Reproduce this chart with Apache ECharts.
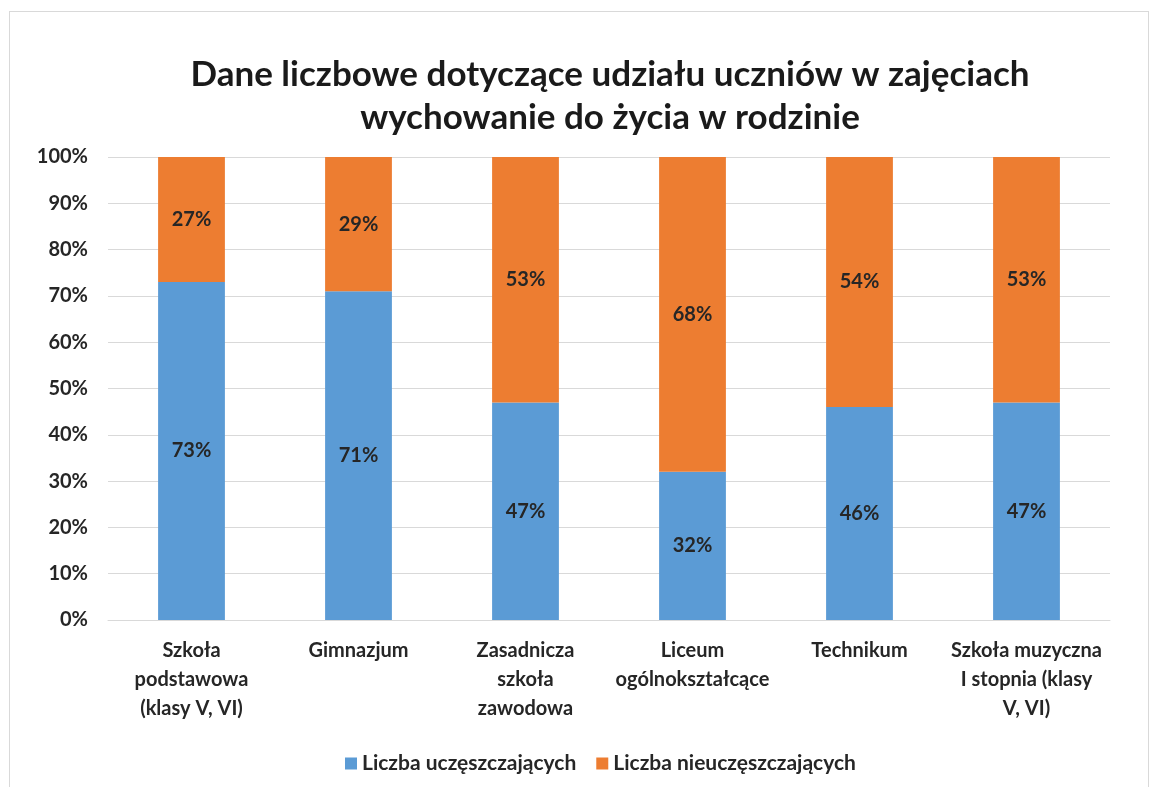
<!DOCTYPE html>
<html>
<head>
<meta charset="utf-8">
<script src="https://cdn.jsdelivr.net/npm/echarts@6/dist/echarts.min.js"></script>
<style>
  html, body { margin: 0; padding: 0; background: #fff; }
  #frame { position: absolute; left: 9px; top: 11px; width: 1140px; height: 790px; border: 1px solid #d9d9d9; box-sizing: border-box; }
  #chart { position: absolute; left: 0; top: 0; width: 1153px; height: 787px; }
</style>
</head>
<body>
<div id="frame"></div>
<div id="chart"></div>
<script>
var categories = [
  'Szkoła\npodstawowa\n(klasy V, VI)',
  'Gimnazjum',
  'Zasadnicza\nszkoła\nzawodowa',
  'Liceum\nogólnokształcące',
  'Technikum',
  'Szkoła muzyczna\nI stopnia (klasy\nV, VI)'
];
var attending = [73, 71, 47, 32, 46, 47];
var notAttending = [27, 29, 53, 68, 54, 53];
var seriesNames = ['Liczba uczęszczających', 'Liczba nieuczęszczających'];

var font = 'Lato, "Noto Sans", sans-serif';
var chart = echarts.init(document.getElementById('chart'));

var labelStyle = {
  show: true,
  formatter: '{c}%',
  color: '#262626',
  fontFamily: font,
  fontWeight: 'bold',
  fontSize: 20
};

chart.setOption({
  animation: false,
  title: {
    text: 'Dane liczbowe dotyczące udziału uczniów w zajęciach\nwychowanie do życia w rodzinie',
    left: 605,
    top: 48,
    textAlign: 'center',
    textStyle: {
      fontFamily: font,
      fontWeight: 'bold',
      fontSize: 35,
      lineHeight: 43,
      color: '#1a1a1a'
    }
  },
  legend: {
    data: seriesNames,
    bottom: 8,
    left: 340,
    itemWidth: 12,
    itemHeight: 12,
    itemGap: 20,
    icon: 'rect',
    textStyle: {
      fontFamily: font,
      fontWeight: 'bold',
      fontSize: 21,
      color: '#262626'
    }
  },
  grid: {
    left: 108,
    right: 43,
    top: 157,
    bottom: 167
  },
  xAxis: {
    type: 'category',
    data: categories,
    axisLine: { lineStyle: { color: '#d9d9d9' } },
    axisTick: { show: false },
    axisLabel: {
      interval: 0,
      margin: 16,
      fontFamily: font,
      fontWeight: 'bold',
      fontSize: 20,
      lineHeight: 29,
      color: '#262626'
    }
  },
  yAxis: {
    type: 'value',
    min: 0,
    max: 100,
    interval: 10,
    axisLine: { show: false },
    axisTick: { show: false },
    splitLine: { lineStyle: { color: '#d9d9d9' } },
    axisLabel: {
      formatter: '{value}%',
      margin: 20,
      fontFamily: font,
      fontWeight: 'bold',
      fontSize: 20,
      color: '#262626'
    }
  },
  series: [
    {
      name: seriesNames[0],
      type: 'bar',
      stack: 'total',
      barWidth: '40%',
      data: attending,
      itemStyle: { color: '#5b9bd5' },
      label: labelStyle
    },
    {
      name: seriesNames[1],
      type: 'bar',
      stack: 'total',
      barWidth: '40%',
      data: notAttending,
      itemStyle: { color: '#ed7d31' },
      label: labelStyle
    }
  ]
});
</script>
</body>
</html>
